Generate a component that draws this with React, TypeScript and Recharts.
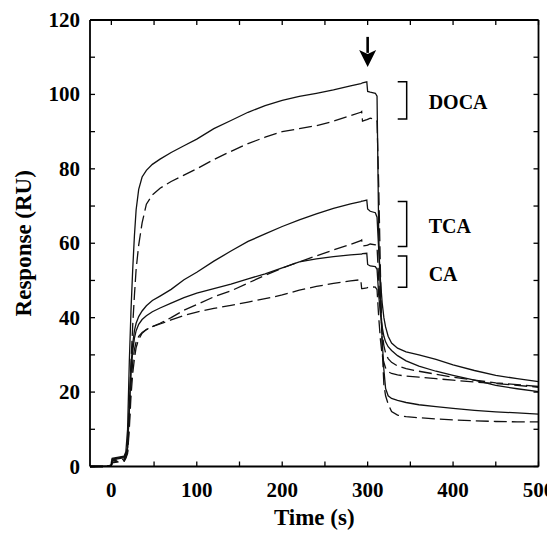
import React from 'react';
import { LineChart, Line, XAxis, YAxis, ReferenceArea, ReferenceDot } from 'recharts';

const FONT = '"Liberation Serif", "Times New Roman", Times, serif';

// time (s)
const time = [-25, -5, 0, 1, 15, 17, 19, 21, 23, 25, 27, 29, 32, 36, 41, 48, 57, 70, 85, 100, 120, 140, 160, 180, 200, 220, 240, 260, 280, 292, 293, 294, 299, 300, 303, 309, 311, 313, 315, 317, 319, 321, 324, 328, 335, 345, 360, 380, 400, 425, 450, 475, 500];

const docaSolid = [0, 0.1, 0.4, 2.2, 2.8, 4, 10, 28, 42, 53, 62, 69, 74.5, 77.8, 79.6, 81.2, 82.6, 84.4, 86.2, 88, 90.8, 93, 95.2, 97, 98.4, 99.5, 100.3, 101.2, 102.3, 102.9, 103, 103.1, 103.4, 100.8, 100.6, 100.3, 99.5, 62, 45, 34, 26, 21, 19, 18.3, 17.8, 17.2, 16.6, 16.1, 15.6, 15.1, 14.7, 14.4, 14.1];
const docaDashed = [0, 0, 0.3, 1.5, 2, 3, 5, 16, 28, 38, 46, 53, 59.5, 65.5, 70.5, 73, 74.8, 76.6, 78.3, 80, 82.5, 84.7, 86.8, 88.5, 90, 90.8, 91.6, 92.8, 94.3, 95.2, 95.4, 92.8, 93.2, 93.3, 93.6, 93.3, 92.8, 75, 52, 32, 22, 19, 16.8, 14.8, 13.8, 13.4, 13.1, 12.8, 12.5, 12.3, 12.1, 12, 12];
const tcaSolid = [0, 0.1, 0.4, 2, 2.6, 3.5, 5, 16, 27, 33, 36.5, 38.5, 40.3, 41.8, 43.2, 44.6, 45.8, 47.6, 50.2, 52.2, 55.2, 57.9, 60.5, 62.5, 64.5, 66.3, 67.9, 69.4, 70.6, 71.2, 71.3, 71.3, 71.6, 69.2, 68.6, 68.2, 67, 58, 50, 44, 40, 37.5, 35, 33.2, 31.8, 30.8, 30, 28.8, 27.3, 25.8, 24.5, 23.6, 22.8];
const tcaDashed = [0, 0, 0.2, 1.2, 1.6, 2.5, 4, 12, 22, 28, 31.5, 33.5, 35, 36, 36.8, 37.6, 38.5, 40, 42, 43.5, 45.6, 47.2, 49.3, 51.4, 53.3, 55, 56.6, 58.2, 59.7, 60.7, 60.9, 59.3, 59.4, 59.5, 59.8, 59.6, 59, 50, 42, 36, 32.5, 30.5, 29, 28, 27, 26.3, 25.6, 24.8, 24, 23.2, 22.5, 22, 21.5];
const caSolid = [0, 0.1, 0.3, 1.8, 2.4, 3.2, 5, 15, 25, 31, 34.5, 36.5, 38.2, 39.5, 40.5, 41.6, 42.6, 43.9, 45.4, 46.6, 47.8, 49, 50.4, 51.8, 53.4, 55, 55.8, 56.4, 56.9, 57.1, 57.1, 57.2, 57.3, 54.3, 53.9, 53.7, 53, 46, 41, 37.5, 35, 33.5, 32.2, 31.2, 29.8, 28.4, 27, 25.6, 24.5, 23.2, 21.8, 20.9, 20.1];
const caDashed = [0, 0, 0.2, 1, 1.4, 2.2, 3.5, 10, 19, 25, 29, 32, 34.2, 35.8, 36.8, 37.6, 38.3, 39.4, 40.6, 41.5, 42.5, 43.3, 44.2, 45.1, 46.1, 47.4, 48.4, 49.2, 49.9, 50.2, 47.8, 47.8, 48, 48.1, 48.3, 48.2, 47.5, 40, 34, 30, 28, 26.5, 25.5, 25, 24.6, 24.3, 24, 23.6, 23.2, 22.7, 22.3, 21.8, 21.3];

const xTicks = [0, 50, 100, 150, 200, 250, 300, 350, 400, 450, 500];
const xLabels = [0, 100, 200, 300, 400, 500];
const yTicks = [0, 10, 20, 30, 40, 50, 60, 70, 80, 90, 100, 110, 120];
const yLabels = [0, 20, 40, 60, 80, 100, 120];

const xMin = -25;
const xMax = 500;
const yMin = 0;
const yMax = 120;

// brackets
const groupNames = ['DOCA', 'TCA', 'CA'];
const groupLow = [93.4, 59.1, 48.2];
const groupHigh = [103.4, 71.2, 56.6];
const bracketT1 = 335.2;
const bracketT2 = 345.7;
const arrowTime = 300;
const arrowTip = 107.4;

// layout
const CHART_W = 547;
const CHART_H = 524;
const MARGIN = { top: 12, right: 16.5, bottom: 4.5, left: 5 };
const YAXIS_W = 77;
const XAXIS_H = 61;
const PLOT_W = CHART_W - MARGIN.left - MARGIN.right - YAXIS_W;
const PLOT_H = CHART_H - MARGIN.top - MARGIN.bottom - XAXIS_H;

const data = time.map((t, i) => ({
  t,
  docaSolid: docaSolid[i],
  docaDashed: docaDashed[i],
  tcaSolid: tcaSolid[i],
  tcaDashed: tcaDashed[i],
  caSolid: caSolid[i],
  caDashed: caDashed[i],
}));

const TICK = 5;
const FRAME_W = 1.8;

// bottom axis tick: bottom tick + label, plus the matching inward tick on the top side
const BottomTick = (props: any) => {
  const { x, y, payload } = props;
  const v = payload.value;
  const top = y - PLOT_H;
  return (
    <g>
      <line x1={x} x2={x} y1={y} y2={y - TICK} stroke="#000" strokeWidth={1.3} />
      <line x1={x} x2={x} y1={top} y2={top + TICK} stroke="#000" strokeWidth={1.3} />
      {xLabels.includes(v) && (
        <text x={x} y={y + 30} textAnchor="middle" fontFamily={FONT} fontWeight="bold" fontSize={21} fill="#000">
          {v}
        </text>
      )}
    </g>
  );
};

// left axis tick: left tick + label, plus the inward tick on the right side;
// the top tick also draws the top side of the frame, the bottom tick the right side
const LeftTick = (props: any) => {
  const { x, y, payload } = props;
  const v = payload.value;
  const right = x + PLOT_W;
  return (
    <g>
      <line x1={x} x2={x + TICK} y1={y} y2={y} stroke="#000" strokeWidth={1.3} />
      <line x1={right} x2={right - TICK} y1={y} y2={y} stroke="#000" strokeWidth={1.3} />
      {v === yMax && <line x1={x} x2={right} y1={y} y2={y} stroke="#000" strokeWidth={FRAME_W} />}
      {v === yMin && <line x1={right} x2={right} y1={y} y2={y - PLOT_H} stroke="#000" strokeWidth={FRAME_W} />}
      {yLabels.includes(v) && (
        <text x={x - 10} y={y + 7} textAnchor="end" fontFamily={FONT} fontWeight="bold" fontSize={21} fill="#000">
          {v}
        </text>
      )}
    </g>
  );
};

const Arrow = (props: any) => {
  const { cx, cy } = props;
  return (
    <g>
      <line x1={cx} x2={cx} y1={cy - 30} y2={cy - 14} stroke="#000" strokeWidth={2.6} />
      <polygon points={`${cx - 8.5},${cy - 17} ${cx},${cy - 13} ${cx + 8.5},${cy - 17} ${cx},${cy}`} fill="#000" />
    </g>
  );
};

const makeBracket = (name: string) => (props: any) => {
  const { x, y, width, height } = props;
  return (
    <g>
      <path d={`M${x},${y} H${x + width} V${y + height} H${x}`} fill="none" stroke="#000" strokeWidth={1.5} />
      <text x={x + width + 22} y={y + height / 2 + 9} fontFamily={FONT} fontWeight="bold" fontSize={20} fill="#000">
        {name}
      </text>
    </g>
  );
};

const axisLine = { stroke: '#000', strokeWidth: FRAME_W };

export default function App() {
  return (
    <LineChart width={CHART_W} height={CHART_H} data={data} margin={MARGIN}>
      <XAxis
        xAxisId="b"
        dataKey="t"
        type="number"
        domain={[xMin, xMax]}
        ticks={xTicks}
        interval={0}
        tickSize={0}
        tickMargin={0}
        tickLine={false}
        tick={<BottomTick />}
        axisLine={axisLine}
        height={XAXIS_H}
        label={{ value: 'Time (s)', position: 'insideBottom', offset: 2.5, style: { fontFamily: FONT, fontWeight: 'bold', fontSize: 23, fill: '#000' } }}
      />
      <YAxis
        yAxisId="l"
        type="number"
        domain={[yMin, yMax]}
        ticks={yTicks}
        interval={0}
        tickSize={0}
        tickMargin={0}
        tickLine={false}
        tick={<LeftTick />}
        axisLine={axisLine}
        width={YAXIS_W}
        label={{ value: 'Response (RU)', angle: -90, position: 'insideLeft', offset: 10, style: { textAnchor: 'middle', fontFamily: FONT, fontWeight: 'bold', fontSize: 23, fill: '#000' } }}
      />
      <Line xAxisId="b" yAxisId="l" dataKey="docaSolid" stroke="#111" strokeWidth={1.3} dot={false} isAnimationActive={false} type="linear" />
      <Line xAxisId="b" yAxisId="l" dataKey="docaDashed" stroke="#111" strokeWidth={1.3} strokeDasharray="13 5" dot={false} isAnimationActive={false} type="linear" />
      <Line xAxisId="b" yAxisId="l" dataKey="tcaSolid" stroke="#111" strokeWidth={1.3} dot={false} isAnimationActive={false} type="linear" />
      <Line xAxisId="b" yAxisId="l" dataKey="tcaDashed" stroke="#111" strokeWidth={1.3} strokeDasharray="13 5" dot={false} isAnimationActive={false} type="linear" />
      <Line xAxisId="b" yAxisId="l" dataKey="caSolid" stroke="#111" strokeWidth={1.3} dot={false} isAnimationActive={false} type="linear" />
      <Line xAxisId="b" yAxisId="l" dataKey="caDashed" stroke="#111" strokeWidth={1.3} strokeDasharray="13 5" dot={false} isAnimationActive={false} type="linear" />
      {groupNames.map((name, i) => (
        <ReferenceArea
          key={name}
          xAxisId="b"
          yAxisId="l"
          x1={bracketT1}
          x2={bracketT2}
          y1={groupLow[i]}
          y2={groupHigh[i]}
          shape={makeBracket(name)}
        />
      ))}
      <ReferenceDot xAxisId="b" yAxisId="l" x={arrowTime} y={arrowTip} r={0} shape={Arrow} />
    </LineChart>
  );
}
